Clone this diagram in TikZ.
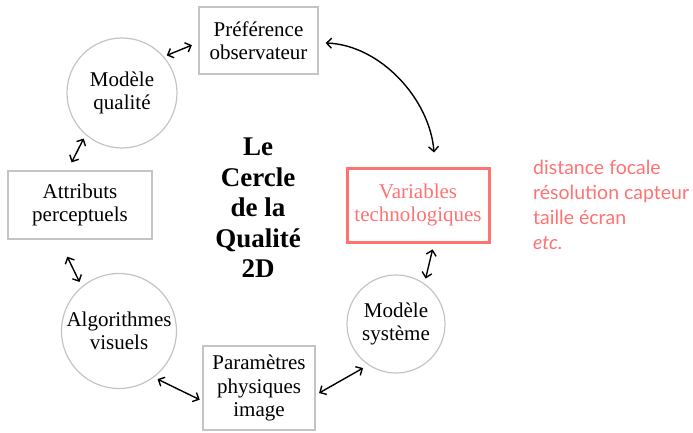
\documentclass[tikz,border=0pt]{standalone}
\usepackage{fontspec}
\setmainfont{Liberation Serif}
\newfontfamily\sidefont{Lato}
\usetikzlibrary{arrows.meta}
\definecolor{greyline}{HTML}{C4C4C4}
\definecolor{salmon}{HTML}{FF7272}
\tikzset{
  x=1pt, y=-1pt,
  every node/.style={font=\fontsize{21}{23.5}\selectfont, align=center, inner sep=0pt},
  boxnode/.style={draw=greyline, line width=1.2pt, rectangle},
  circnode/.style={draw=greyline, line width=1.2pt, circle},
  redbox/.style={draw=salmon, line width=3pt, rectangle, text=salmon},
  link/.style={{Straight Barb[length=5pt,width=10pt]}-{Straight Barb[length=5pt,width=10pt]}, line width=1.4pt, black},
  sidetext/.style={font=\sidefont\fontsize{19.5}{25}\selectfont, text=salmon, anchor=base west},
}
\begin{document}
\begin{tikzpicture}
\useasboundingbox (0,0) rectangle (693,433);
\node[boxnode, minimum width=119pt, minimum height=67pt] (pref) at (258.5,40.5) {Préférence\\observateur};
\node[circnode, minimum size=110pt] (mq) at (122,93) {Modèle\\qualité};
\node[boxnode, minimum width=144pt, minimum height=68pt] (attr) at (80,205) {Attributs\\perceptuels};
\node[circnode, minimum size=115pt] (algo) at (119,331) {Algorithmes\\visuels};
\node[boxnode, minimum width=112pt, minimum height=84pt] (param) at (259,388) {Paramètres\\physiques\\image};
\node[circnode, minimum size=98pt] (ms) at (396,324) {Modèle\\système};
\node[redbox, minimum width=142pt, minimum height=74pt] (var) at (418,205) {Variables\\technologiques};
\node[font=\bfseries\fontsize{27}{30.5}\selectfont] (title) at (258,208) {Le\\Cercle\\de la\\Qualité\\2D};
\node[sidetext] (s1) at (533,174) {distance focale};
\node[sidetext] (s2) at (533,199) {résolution capteur};
\node[sidetext] (s3) at (533,224) {taille écran};
\node[sidetext] (s4) at (533,249) {\itshape etc.};
% connectors
\draw[link, shorten <=3pt, shorten >=7pt] (mq.41) -- ([yshift=-2pt]pref.west);
\draw[link, shorten <=4pt, shorten >=9pt] (mq.229) -- ([xshift=-12.5pt]attr.north);
\draw[link, shorten <=19pt, shorten >=5pt] ([xshift=-21pt]attr.south) -- (algo.130);
\draw[link, shorten <=4pt, shorten >=3pt] (algo.307) -- ([yshift=-13pt]param.west);
\draw[link, shorten <=4pt, shorten >=6pt] ([yshift=-7pt]param.east) -- (ms.236);
\draw[link, shorten <=6pt, shorten >=5pt] ([xshift=16pt]var.south) -- (ms.55);
\draw[link] ([xshift=7pt,yshift=-2.5pt]pref.east) .. controls +(55,2) and +(-4,-53) .. ([xshift=16pt,yshift=14pt]var.north);
\end{tikzpicture}
\end{document}
